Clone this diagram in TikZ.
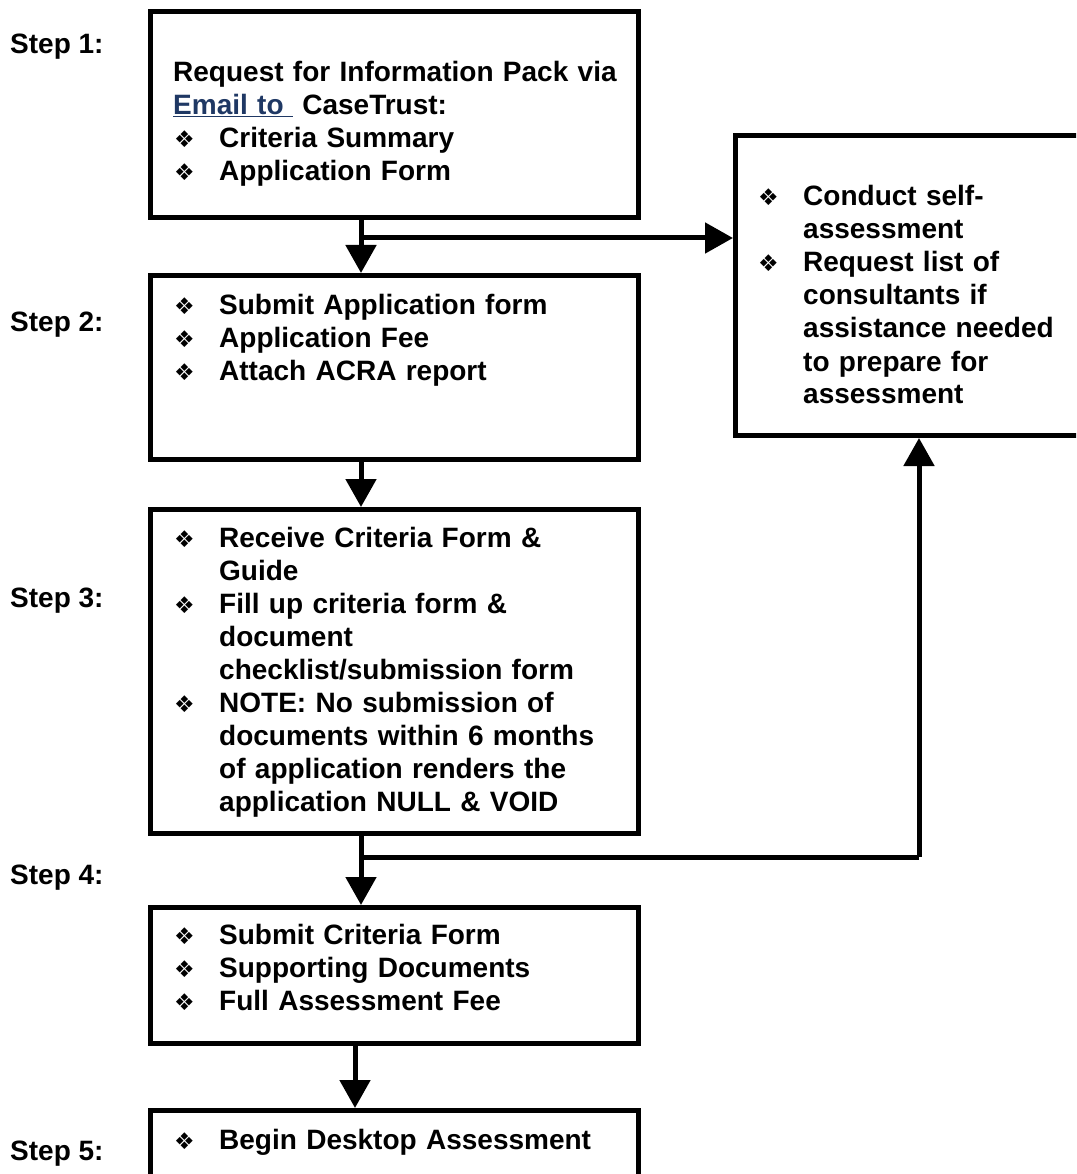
\documentclass[tikz,border=0pt]{standalone}
\usepackage{fontspec}
\setmainfont{Liberation Sans}
\newfontfamily\symfont{DejaVu Sans}
\usetikzlibrary{arrows.meta,calc}

\definecolor{maillink}{RGB}{31,56,100}

% bullet, line break and list item with hanging indent
\newcommand{\bul}{\makebox[46pt][l]{\hspace{1pt}{\symfont\fontsize{23}{23}\selectfont ❖}}}
\newcommand{\lbrk}{\hfil\break}
\newcommand{\itm}[1]{\hangindent=46pt\hangafter=1\noindent\bul#1\par}

\tikzset{
  stepbox/.style={draw, line width=5pt, inner sep=0pt, minimum width=488pt},
  boxtext/.style={anchor=base west, inner sep=0pt, text width=480pt,
    font=\bfseries\fontsize{28}{33}\selectfont},
  steplabel/.style={anchor=base west, inner sep=0pt,
    font=\bfseries\fontsize{28}{33}\selectfont},
  flow/.style={line width=5pt, -{Triangle[width=30pt,length=28pt]}},
  joint/.style={line width=5pt},
}

\begin{document}
\begin{tikzpicture}[x=1pt,y=-1pt]
\clip (0,0) rectangle (1076,1174);

% Boxes
  \node[stepbox, minimum height=206pt] (s1) at (394.5,114.5) {};
  \node[stepbox, minimum height=184pt] (s2) at (394.5,367.5) {};
  \node[stepbox, minimum height=324pt] (s3) at (394.5,671.5) {};
  \node[stepbox, minimum height=136pt] (s4) at (394.5,975.5) {};
  \node[stepbox, minimum height=100pt] (s5) at (394.5,1160.5) {};
  \node[stepbox, minimum width=355pt, minimum height=300pt] (rt) at (913,285.5) {};

% Step labels
  \node[steplabel] (l1) at (10,54) {Step 1:};
  \node[steplabel] (l2) at (10,331) {Step 2:};
  \node[steplabel] (l3) at (10,607) {Step 3:};
  \node[steplabel] (l4) at (10,884) {Step 4:};
  \node[steplabel] (l5) at (10,1160) {Step 5:};

% Texts
  \node[boxtext] (t1) at (173,82) {\noindent Request for Information Pack via\lbrk
    {\color{maillink}\underline{Email to\ }} CaseTrust:\par
    \itm{Criteria Summary}
    \itm{Application Form}};
  \node[boxtext] (t2) at (173,314) {\itm{Submit Application form}
    \itm{Application Fee}
    \itm{Attach ACRA report}};
  \node[boxtext] (t3) at (173,547) {\itm{Receive Criteria Form \&\lbrk Guide}
    \itm{Fill up criteria form \&\lbrk document\lbrk checklist/submission form}
    \itm{NOTE: No submission of\lbrk documents within 6 months\lbrk of application renders the\lbrk application NULL \& VOID}};
  \node[boxtext] (t4) at (173,944) {\itm{Submit Criteria Form}
    \itm{Supporting Documents}
    \itm{Full Assessment Fee}};
  \node[boxtext] (t5) at (173,1149) {\itm{Begin Desktop Assessment}};
  \node[boxtext, text width=310pt] (tr) at (757,206) {\itm{Conduct self-\lbrk assessment}
    \itm{Request list of\lbrk consultants if\lbrk assistance needed\lbrk to prepare for\lbrk assessment}};

% Connectors
  \coordinate (j1) at (361,238);
  \coordinate (j3) at (361,857);
  \coordinate (k3) at (919,857);
  \draw[flow] (s1.south -| j1) -- (s2.north -| j1);
  \draw[flow] (j1) -- (j1 -| rt.west);
  \draw[flow] (s2.south -| j1) -- (s3.north -| j1);
  \draw[flow] (s3.south -| j3) -- (s4.north -| j3);
  \draw[joint] (j3) -- (k3);
  \draw[flow] (k3) -- (k3 |- rt.south);
  \draw[flow] ($(s4.south)+(-39.5,0)$) -- ($(s5.north)+(-39.5,0)$);
\end{tikzpicture}
\end{document}
